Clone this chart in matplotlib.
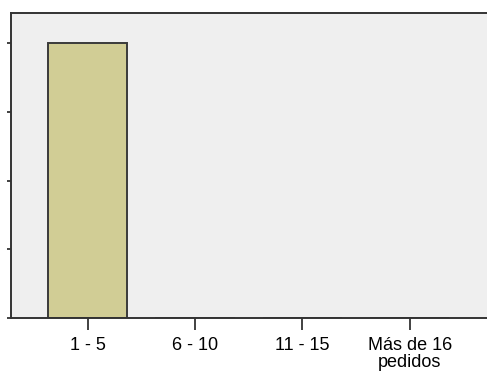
import matplotlib.pyplot as plt

plt.rcParams['font.family'] = ['Liberation Sans', 'DejaVu Sans']

categorias = ['1 - 5', '6 - 10', '11 - 15', 'Más de 16\npedidos']
frecuencia = [4, 0, 0, 0]
yticks = [0, 1, 2, 3, 4]

fig = plt.figure(figsize=(4.87, 3.72), dpi=100)
ax = fig.add_axes([11 / 487, 54 / 372, 1 - 11 / 487, 305 / 372])
ax.set_facecolor('#efefef')

x = list(range(len(categorias)))
ax.bar(x, frecuencia, width=0.74, color='#d1cd95', edgecolor='#3a3a3a', linewidth=1.4)

ax.set_xlim(-0.715, 3.72)
ax.set_ylim(0, 4.44)
ax.set_xticks(x)
ax.set_xticklabels(categorias, fontsize=13, linespacing=1.0)
ax.set_yticks(yticks)
ax.set_yticklabels([])
ax.tick_params(axis='x', length=8.5, width=1.3, color='#333333', pad=5.5)
ax.tick_params(axis='y', length=3, width=1.3, color='#333333')

for side in ['left', 'top', 'bottom']:
    ax.spines[side].set_color('#333333')
    ax.spines[side].set_linewidth(1.4)
ax.spines['right'].set_visible(False)

fig.savefig('out.png', dpi=100)
